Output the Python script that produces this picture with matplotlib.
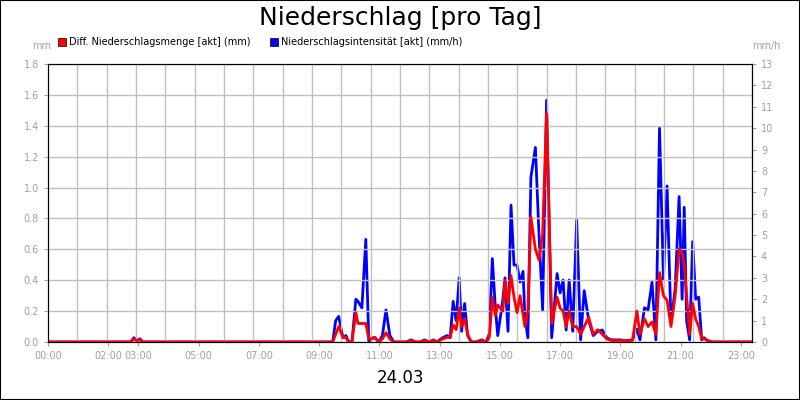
import matplotlib
matplotlib.use("Agg")
import matplotlib.pyplot as plt
from matplotlib.patches import Rectangle
import numpy as np

# time in hours, red = mm, blue = mm/h
t = [0.0, 2.75, 2.85, 2.95, 3.05, 3.15, 3.3, 9.45, 9.55, 9.65, 9.79, 9.89, 9.98, 10.09, 10.22, 10.29, 10.42, 10.55,
     10.65, 10.75, 10.85, 10.98, 11.1, 11.22, 11.35, 11.48, 11.6, 11.75, 11.9, 12.05, 12.2, 12.35, 12.5, 12.65,
     12.8, 12.9, 13.0, 13.1, 13.25, 13.35, 13.45, 13.55, 13.65, 13.73, 13.83, 13.93, 14.05, 14.2, 14.4, 14.55,
     14.65, 14.75, 14.85, 14.93, 15.1, 15.17, 15.27, 15.37, 15.47, 15.57, 15.67, 15.77, 15.83, 15.93, 16.03,
     16.18, 16.3, 16.42, 16.55, 16.72, 16.9, 17.0, 17.1, 17.2, 17.3, 17.42, 17.55, 17.68, 17.8, 17.95, 18.1,
     18.25, 18.4, 18.55, 18.7, 18.85, 19.0, 19.2, 19.4, 19.55, 19.65, 19.8, 19.92, 20.05, 20.18, 20.3, 20.43,
     20.55, 20.68, 20.82, 20.95, 21.05, 21.12, 21.2, 21.3, 21.4, 21.5, 21.6, 21.7, 21.78, 21.9, 22.05, 22.2,
     22.4, 23.4]
blue = [0, 0, 0.2, 0.05, 0.15, 0, 0, 0, 1.0, 1.2, 0.2, 0.3, 0, 0, 2.0, 1.9, 1.6, 4.8,
        0, 0.2, 0.2, 0, 0.3, 1.5, 0.3, 0, 0, 0, 0, 0.1, 0, 0, 0.1, 0,
        0.1, 0, 0.1, 0.2, 0.3, 0.2, 1.9, 1.0, 3.0, 0.5, 1.8, 0.3, 0, 0, 0.1, 0,
        0.4, 3.9, 1.6, 0.3, 2.0, 3.0, 0.5, 6.4, 3.6, 3.6, 2.8, 3.3, 1.2, 0.2, 7.7,
        9.1, 5.0, 1.5, 11.3, 0.2, 3.2, 2.3, 2.9, 0.56, 2.9, 0.5, 5.7, 0.1, 2.4, 1.0, 0.3,
        0.5, 0.56, 0.2, 0.1, 0.1, 0.1, 0.05, 0.1, 0.6, 0.1, 1.6, 1.5, 2.8, 0.1, 10.0, 2.9,
        7.3, 0.9, 2.5, 6.8, 2.0, 6.3, 1.0, 0.1, 4.7, 2.0, 2.1, 0.1, 0.2, 0.05, 0, 0,
        0, 0]
red = [0, 0, 0.02, 0.01, 0.015, 0, 0, 0, 0.05, 0.1, 0.03, 0.03, 0, 0, 0.19, 0.12, 0.12, 0.12,
       0.02, 0.02, 0.03, 0, 0.02, 0.06, 0.02, 0, 0, 0, 0, 0.01, 0, 0, 0.01, 0,
       0.01, 0, 0.01, 0.02, 0.03, 0.03, 0.11, 0.08, 0.22, 0.1, 0.15, 0.05, 0, 0, 0.01, 0,
       0.03, 0.29, 0.17, 0.24, 0.2, 0.4, 0.25, 0.43, 0.29, 0.19, 0.3, 0.18, 0.1, 0.2, 0.81,
       0.6, 0.53, 0.7, 1.48, 0.12, 0.29, 0.22, 0.2, 0.1, 0.2, 0.1, 0.1, 0.05, 0.1, 0.16, 0.05,
       0.08, 0.05, 0.02, 0.01, 0.01, 0.01, 0.01, 0.01, 0.2, 0.05, 0.15, 0.1, 0.13, 0.05, 0.45, 0.3,
       0.27, 0.1, 0.3, 0.6, 0.58, 0.5, 0.3, 0.05, 0.25, 0.15, 0.1, 0.02, 0.02, 0.01, 0, 0,
       0, 0]
tick_pos = [0, 2, 3, 5, 7, 9, 11, 13, 15, 17, 19, 21, 23]
tick_lab = ["00:00", "02:00", "03:00", "05:00", "07:00", "09:00", "11:00", "13:00", "15:00", "17:00", "19:00", "21:00", "23:00"]

gray = "#a0a0a0"
fig = plt.figure(figsize=(8, 4), dpi=100)
fig.patches.append(Rectangle((0, 0), 1, 1, transform=fig.transFigure, fill=False, ec="black", lw=1.5))
ax = fig.add_axes([0.06, 0.145, 0.88, 0.695])
ax2 = ax.twinx()
xmax = 23.37
ax.set_xlim(0, xmax)
ax.set_ylim(0, 1.8)
ax2.set_ylim(0, 13)
ax.set_yticks(np.arange(0, 1.81, 0.2))
ax.set_yticklabels([f"{v:.1f}" for v in np.arange(0, 1.81, 0.2)])
ax2.set_yticks(range(0, 14))
ax.set_xticks(tick_pos)
ax.set_xticklabels(tick_lab)
ax.set_xticks(np.linspace(0, xmax, 25), minor=True)
ax.grid(False)
ax.grid(True, which="minor", axis="x", color="#c0c0c0", lw=1)
ax.grid(True, which="major", axis="y", color="#c0c0c0", lw=1)
for a in (ax, ax2):
    a.tick_params(labelsize=7, labelcolor=gray, color=gray, length=3)
ax.tick_params(which="minor", length=0)
ax2.set_zorder(ax.get_zorder() - 1)
ax.patch.set_visible(False)
ax2.plot(t, blue, color="#0000ff", lw=2)
ax.plot(t, red, color="#ff0000", lw=2)
for s in ax.spines.values():
    s.set_color("black")
fig.text(0.5, 0.955, "Niederschlag [pro Tag]", ha="center", va="center", fontsize=18)
fig.text(0.5, 0.055, "24.03", ha="center", va="center", fontsize=12)
fig.text(0.04, 0.878, "mm", fontsize=7, color=gray, ha="left")
fig.text(0.94, 0.878, "mm/h", fontsize=7, color=gray, ha="left")
fig.patches.append(Rectangle((0.072, 0.885), 0.01, 0.02, transform=fig.transFigure, fc="red", ec="black", lw=0.5))
fig.text(0.086, 0.895, "Diff. Niederschlagsmenge [akt] (mm)", fontsize=7, va="center")
fig.patches.append(Rectangle((0.337, 0.885), 0.01, 0.02, transform=fig.transFigure, fc="blue", ec="black", lw=0.5))
fig.text(0.351, 0.895, "Niederschlagsintensität [akt] (mm/h)", fontsize=7, va="center")
fig.savefig("out.png", dpi=100)
